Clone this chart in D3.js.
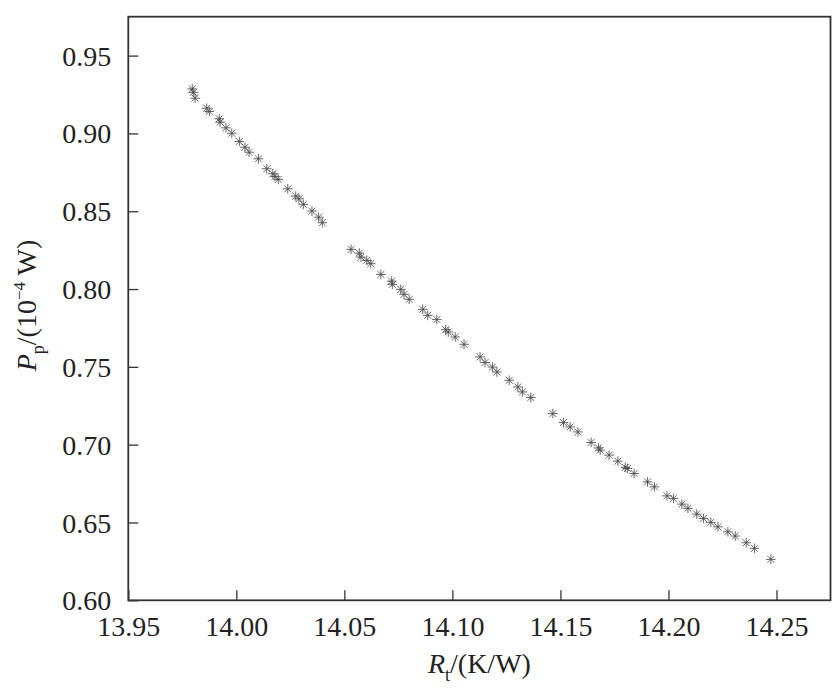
<!DOCTYPE html>
<html><head><meta charset="utf-8">
<script src="https://cdn.jsdelivr.net/npm/d3@7"></script>
<style>body{margin:0;background:#fff}svg{display:block}
text{font-family:"Liberation Serif","Times New Roman",Times,serif;}</style>
</head><body><svg id="c" width="839" height="698"></svg>
<script>
const xTicks = [13.95, 14.00, 14.05, 14.10, 14.15, 14.20, 14.25];
const yTicks = [0.60, 0.65, 0.70, 0.75, 0.80, 0.85, 0.90, 0.95];
const Rt = [13.9796,13.9801,13.9809,13.9863,13.9875,13.9921,13.9925,13.9952,13.9979,14.0014,14.0040,14.0059,14.0102,14.0141,14.0169,14.0179,14.0194,14.0238,14.0275,14.0290,14.0310,14.0350,14.0381,14.0398,
14.0531,14.0569,14.0577,14.0604,14.0622,14.0669,14.0719,14.0722,14.0761,14.0776,14.0800,14.0863,14.0886,14.0928,14.0969,14.0981,14.1013,14.1054,14.1128,14.1151,14.1185,14.1206,14.1263,14.1303,14.1324,14.1363,
14.1465,14.1514,14.1545,14.1581,14.1642,14.1676,14.1684,14.1725,14.1766,14.1800,14.1810,14.1841,14.1903,14.1935,14.1993,14.2023,14.2062,14.2090,14.2131,14.2162,14.2196,14.2229,14.2275,14.2309,14.2360,14.2398,14.2474];
const Pp = [0.9286,0.9264,0.9226,0.9162,0.9141,0.9094,0.9072,0.9036,0.9001,0.8948,0.8911,0.8879,0.8837,0.8773,0.8741,0.8723,0.8704,0.8644,0.8597,0.8580,0.8544,0.8501,0.8462,0.8426,
0.8255,0.8231,0.8205,0.8184,0.8163,0.8094,0.8051,0.8030,0.7998,0.7966,0.7934,0.7870,0.7831,0.7804,0.7739,0.7724,0.7692,0.7645,0.7564,0.7528,0.7499,0.7467,0.7414,0.7371,0.7339,0.7303,
0.7200,0.7142,0.7114,0.7082,0.7014,0.6979,0.6965,0.6933,0.6894,0.6854,0.6847,0.6815,0.6761,0.6729,0.6671,0.6655,0.6618,0.6591,0.6554,0.6526,0.6501,0.6472,0.6440,0.6413,0.6370,0.6334,0.6263];

const svg = d3.select('#c');
const L = 128.3, R = 830.5, T = 16.7, B = 600.3;
const x = d3.scaleLinear().domain([13.95, 14.275]).range([L, R]);
const y = d3.scaleLinear().domain([0.60, 0.975]).range([B, T]);
const font = '"Liberation Serif","Times New Roman",Times,serif';
const axisColor = '#333';

// points
const pts = svg.append('g');
const s = 4.8, d = s * 0.72;
Rt.forEach((v, i) => {
  const cx = x(v), cy = y(Pp[i]);
  const g = pts.append('g').attr('transform', `translate(${cx},${cy})`)
    .attr('stroke', '#4a4a4a').attr('stroke-width', 0.85).attr('fill', 'none');
  g.append('line').attr('x1', -s).attr('x2', s).attr('y1', 0).attr('y2', 0);
  g.append('line').attr('x1', 0).attr('x2', 0).attr('y1', -s).attr('y2', s);
  g.append('line').attr('x1', -d).attr('x2', d).attr('y1', -d).attr('y2', d);
  g.append('line').attr('x1', -d).attr('x2', d).attr('y1', d).attr('y2', -d);
});

// axes
const xa = svg.append('g').attr('transform', `translate(0,${B})`)
  .call(d3.axisBottom(x).tickValues(xTicks).tickFormat(d3.format('.2f')).tickSizeInner(-10).tickSizeOuter(0).tickPadding(16));
const ya = svg.append('g').attr('transform', `translate(${L},0)`)
  .call(d3.axisLeft(y).tickValues(yTicks).tickFormat(d3.format('.2f')).tickSizeInner(-10).tickSizeOuter(0).tickPadding(17));
[xa, ya].forEach(a => {
  a.attr('font-family', null).attr('font-size', null);
  a.select('.domain').remove();
  a.selectAll('line').attr('stroke', axisColor).attr('stroke-width', 1.3);
  a.selectAll('text').style('font-family', font).style('font-size', '28px').attr('fill', '#222');
});
ya.selectAll('text').attr('dy', '0.34em');
xa.selectAll('text').attr('dy', '0.72em');

// frame
svg.append('rect').attr('x', L).attr('y', T).attr('width', R - L).attr('height', B - T)
  .attr('fill', 'none').attr('stroke', axisColor).attr('stroke-width', 1.8);

// axis titles
const xt = svg.append('text').attr('x', (L + R) / 2).attr('y', 673).attr('text-anchor', 'middle')
  .style('font-family', font).style('font-size', '28px').attr('fill', '#222');
xt.append('tspan').attr('font-style', 'italic').text('R');
xt.append('tspan').style('font-size', '18px').attr('dy', 8).text('t');
xt.append('tspan').attr('dy', -8).text('/(K/W)');

const yt = svg.append('text').attr('transform', `translate(36,${(T + B) / 2 - 3}) rotate(-90)`).attr('text-anchor', 'middle')
  .style('font-family', font).style('font-size', '28px').attr('fill', '#222');
yt.append('tspan').attr('font-style', 'italic').text('P');
yt.append('tspan').style('font-size', '18px').attr('dy', 8).text('p');
yt.append('tspan').attr('dy', -8).text('/(10');
yt.append('tspan').style('font-size', '17px').attr('dy', -11).text('−4');
yt.append('tspan').attr('dy', 11).text(' W)');
</script></body></html>
